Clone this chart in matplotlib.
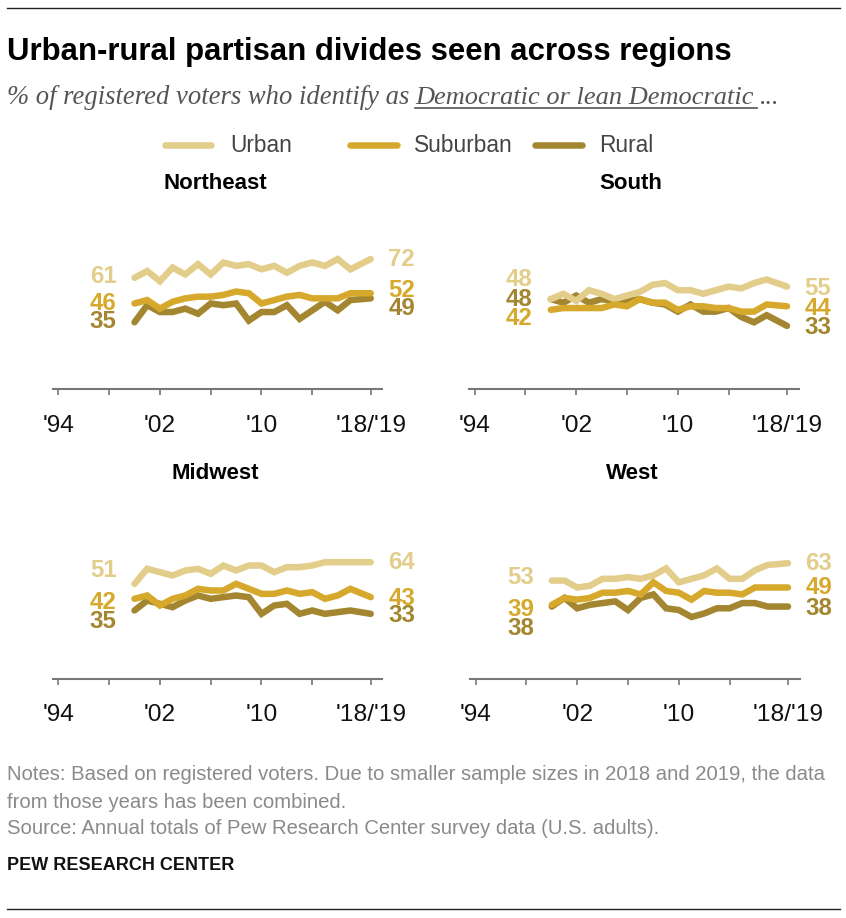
import matplotlib
matplotlib.use("Agg")
import matplotlib.pyplot as plt

plt.rcParams["font.family"] = ["Liberation Sans", "DejaVu Sans"]

years = list(range(2000, 2018)) + [2018.6]
tick_years = [1994, 1998, 2002, 2006, 2010, 2014, 2018.6]
tick_labels = ["'94", "", "'02", "", "'10", "", "'18/'19"]

# One value per survey year
ne_urban = [61, 65, 59, 67, 63, 69, 63, 70, 68, 69, 66, 68, 64, 68, 70, 68, 72, 66, 72]
ne_suburban = [46, 48, 43, 47, 49, 50, 50, 51, 53, 52, 46, 48, 50, 51, 49, 49, 49, 52, 52]
ne_rural = [35, 45, 41, 41, 43, 40, 46, 45, 46, 36, 41, 41, 45, 37, 42, 47, 42, 48, 49]

south_urban = [48, 51, 47, 53, 51, 48, 50, 52, 56, 57, 53, 53, 51, 53, 55, 54, 57, 59, 55]
south_suburban = [42, 43, 43, 43, 43, 45, 44, 48, 46, 46, 42, 44, 44, 43, 43, 41, 41, 45, 44]
south_rural = [48, 46, 50, 46, 48, 47, 47, 48, 46, 45, 41, 45, 41, 41, 43, 38, 35, 39, 33]

mw_urban = [51, 60, 58, 56, 59, 60, 57, 62, 59, 62, 62, 58, 61, 61, 62, 64, 64, 64, 64]
mw_suburban = [42, 44, 38, 42, 44, 48, 47, 47, 51, 48, 45, 45, 47, 45, 46, 42, 44, 48, 43]
mw_rural = [35, 41, 39, 37, 41, 44, 42, 43, 44, 43, 33, 38, 39, 33, 35, 33, 34, 35, 33]

west_urban = [53, 53, 49, 50, 54, 54, 55, 54, 56, 60, 52, 54, 56, 60, 54, 54, 59, 62, 63]
west_suburban = [39, 43, 42, 43, 46, 46, 47, 45, 52, 47, 46, 42, 47, 46, 46, 45, 49, 49, 49]
west_rural = [38, 43, 37, 39, 40, 41, 36, 43, 45, 37, 36, 32, 34, 37, 37, 40, 40, 38, 38]

URBAN = "#e3cd8b"
SUBURBAN = "#d6a92c"
RURAL = "#a3862f"
colors = [URBAN, SUBURBAN, RURAL]

W, H = 846, 918
fig = plt.figure(figsize=(W / 100, H / 100), dpi=100)


def fx(px):
    return px / W


def fy(py):
    return 1 - py / H


def px_size(px):
    return px * 0.72


# left edge, right edge, axis y, y limits, title x, title y, label offsets (left then right, px up)
panels = [
    ("Northeast", (ne_urban, ne_suburban, ne_rural), 52.7, 381.7, 389.3, (-4.2, 89.4), 215, 183.5,
     (4, 2, 3), (2, 5, -8)),
    ("South", (south_urban, south_suburban, south_rural), 469, 799.3, 389.3, (-2.5, 87.1), 631, 183.5,
     (22, -6, 2), (1, 0, 1)),
    ("Midwest", (mw_urban, mw_suburban, mw_rural), 52.7, 381.7, 678.5, (-5.8, 90.2), 215, 473.5,
     (16, -1, -9), (2, 1, 1)),
    ("West", (west_urban, west_suburban, west_rural), 470, 800, 678.5, (-3.5, 88.8), 632, 473.5,
     (6, -2, -19), (2, 2, 1)),
]

for name, series, left, right, axis_y, ylim, title_x, title_y, off_l, off_r in panels:
    ax = fig.add_axes([fx(left), fy(axis_y), (right - left) / W, 160 / H])
    scale = 12.7
    x0 = 1994 - 5.6 / scale
    ax.set_xlim(x0, x0 + (right - left) / scale)
    ax.set_ylim(*ylim)
    ax.patch.set_alpha(0)

    for vals, c, z in zip(series, colors, [3, 4, 2]):
        ax.plot(years, vals, color=c, lw=px_size(6.5), solid_capstyle="round",
                solid_joinstyle="miter", zorder=z)

    for i, (vals, c) in enumerate(zip(series, colors)):
        ax.annotate(str(vals[0]), xy=(years[0], vals[0]), xytext=(px_size(-18), px_size(off_l[i])),
                    textcoords="offset points", ha="right", va="center_baseline", color=c,
                    fontsize=px_size(24), fontweight="bold", annotation_clip=False)
        ax.annotate(str(vals[-1]), xy=(years[-1], vals[-1]), xytext=(px_size(17.5), px_size(off_r[i])),
                    textcoords="offset points", ha="left", va="center_baseline", color=c,
                    fontsize=px_size(24), fontweight="bold", annotation_clip=False)

    for s in ["top", "left", "right"]:
        ax.spines[s].set_visible(False)
    ax.spines["bottom"].set_color("#777777")
    ax.spines["bottom"].set_linewidth(1.5)
    ax.set_yticks([])
    ax.set_xticks(tick_years)
    ax.set_xticklabels(tick_labels, fontsize=px_size(24.5), color="#111111")
    ax.tick_params(axis="x", length=4, width=1.2, color="#777777", pad=14.5)

    fig.text(fx(title_x), fy(title_y), name, ha="center", va="center",
             fontsize=px_size(22.3), fontweight="bold", color="black")

# Top and bottom rules
for y in [7.5, 909]:
    fig.add_artist(plt.Line2D([fx(7), fx(840)], [fy(y), fy(y)], color="#222222", lw=1))

fig.text(fx(7), fy(52), "Urban-rural partisan divides seen across regions", ha="left", va="center",
         fontsize=px_size(31.2), fontweight="bold", color="black")

sub_font = "Liberation Serif"
fig.text(fx(7), fy(98), "% of registered voters who identify as", ha="left", va="center",
         fontsize=px_size(26.6), style="italic", family=sub_font, color="#555555")
fig.text(fx(415), fy(98), "Democratic or lean Democratic", ha="left", va="center",
         fontsize=px_size(26.4), style="italic", family=sub_font, color="#555555")
fig.add_artist(plt.Line2D([fx(415), fx(757)], [fy(107.5), fy(107.5)], color="#555555", lw=1.2))
fig.text(fx(760), fy(98), "...", ha="left", va="center",
         fontsize=px_size(26), style="italic", family=sub_font, color="#555555")

# Legend
legend_items = [("Urban", 165, 211, 230, URBAN), ("Suburban", 350, 397, 414, SUBURBAN),
                ("Rural", 535, 582, 599, RURAL)]
for label, x1, x2, tx, c in legend_items:
    fig.add_artist(plt.Line2D([fx(x1), fx(x2)], [fy(145), fy(145)], color=c, lw=px_size(6.5),
                              solid_capstyle="round"))
    fig.text(fx(tx), fy(146), label, ha="left", va="center", fontsize=px_size(22.8), color="#444444")

notes = ["Notes: Based on registered voters. Due to smaller sample sizes in 2018 and 2019, the data",
         "from those years has been combined.",
         "Source: Annual totals of Pew Research Center survey data (U.S. adults)."]
for y, t in zip([775, 802, 828], notes):
    fig.text(fx(7), fy(y), t, ha="left", va="center", fontsize=px_size(20.3), color="#8a8a8a")

fig.text(fx(7), fy(866), "PEW RESEARCH CENTER", ha="left", va="center", fontsize=px_size(18),
         fontweight="bold", color="#111111")

fig.savefig("out.png", dpi=100)
